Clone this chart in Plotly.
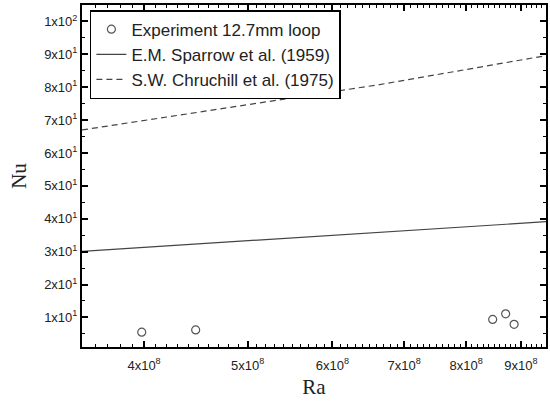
import math
import plotly.graph_objects as go

# Data
exp_ra = [3.98e8, 4.47e8, 8.47e8, 8.71e8, 8.87e8]
exp_nu = [5.5, 6.2, 9.4, 11.1, 7.9]

sparrow_ra = [3.5e8, 9.5e8]
sparrow_nu = [30.1, 39.1]

churchill_ra = [3.5e8, 6.64e8, 9.5e8]
churchill_nu = [67.0, 80.8, 89.6]

x_tickvals = [4e8, 5e8, 6e8, 7e8, 8e8, 9e8]
x_ticktext = ["4x10<sup>8</sup>", "5x10<sup>8</sup>", "6x10<sup>8</sup>",
              "7x10<sup>8</sup>", "8x10<sup>8</sup>", "9x10<sup>8</sup>"]
y_tickvals = [10, 20, 30, 40, 50, 60, 70, 80, 90, 100]
y_ticktext = ["1x10<sup>1</sup>", "2x10<sup>1</sup>", "3x10<sup>1</sup>",
              "4x10<sup>1</sup>", "5x10<sup>1</sup>", "6x10<sup>1</sup>",
              "7x10<sup>1</sup>", "8x10<sup>1</sup>", "9x10<sup>1</sup>",
              "1x10<sup>2</sup>"]

x_min, x_max = 3.5e8, 9.5e8
x_minor = [x_min + k * 1e7 for k in range(int(round((x_max - x_min) / 1e7)) + 1)]

fig = go.Figure()
fig.add_trace(go.Scatter(
    x=exp_ra, y=exp_nu, mode="markers", name="Experiment 12.7mm loop",
    marker=dict(symbol="circle-open", size=8, color="#555555", line=dict(width=1.2))))
fig.add_trace(go.Scatter(
    x=sparrow_ra, y=sparrow_nu, mode="lines", name="E.M. Sparrow et al. (1959)",
    line=dict(color="#444444", width=1.2)))
fig.add_trace(go.Scatter(
    x=churchill_ra, y=churchill_nu, mode="lines", name="S.W. Chruchill et al. (1975)",
    line=dict(color="#444444", width=1.2, dash="6px,4px")))

axis_common = dict(
    showline=True, linecolor="black", linewidth=2, mirror="ticks",
    ticks="inside", ticklen=6, tickwidth=1.5, tickcolor="black",
    showgrid=False, zeroline=False, automargin=False,
    tickfont=dict(family="Liberation Sans, Arial", size=13, color="#222222"),
)

fig.update_xaxes(
    type="log", range=[math.log10(x_min), math.log10(x_max)],
    tickmode="array", tickvals=x_tickvals, ticktext=x_ticktext,
    ticklabelstandoff=5,
    minor=dict(tickmode="array", tickvals=x_minor, ticks="inside", ticklen=3,
               tickwidth=1, tickcolor="black"),
    title=dict(text="Ra", font=dict(family="Liberation Serif, Times New Roman", size=21, color="#222222"),
               standoff=8),
    **axis_common)
fig.update_yaxes(
    range=[1, 105],
    tickmode="array", tickvals=y_tickvals, ticktext=y_ticktext,
    minor=dict(tickmode="array", tickvals=[5, 15, 25, 35, 45, 55, 65, 75, 85, 95],
               ticks="inside", ticklen=3, tickwidth=1, tickcolor="black"),
    title=dict(text="Nu", font=dict(family="Liberation Serif, Times New Roman", size=21, color="#222222"),
               standoff=12),
    **axis_common)

fig.update_layout(
    width=550, height=405,
    margin=dict(l=82, r=4, t=5, b=58),
    paper_bgcolor="white", plot_bgcolor="white",
    showlegend=True,
    legend=dict(x=0.017, y=0.985, xanchor="left", yanchor="top",
                bgcolor="white", bordercolor="black", borderwidth=1.5,
                font=dict(family="Liberation Sans, Arial", size=17, color="#222222"),
                tracegroupgap=0, itemwidth=30, entrywidth=255, entrywidthmode="pixels"),
)

fig.write_html("out.html", config={"displayModeBar": False},
               post_script="document.body.style.margin='0';")
